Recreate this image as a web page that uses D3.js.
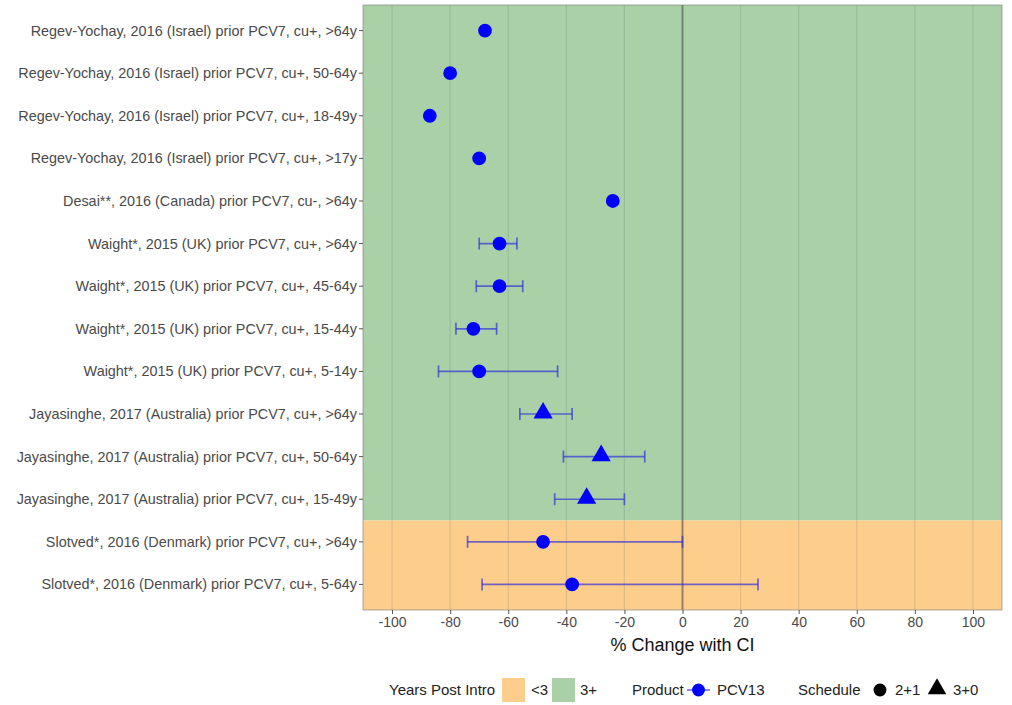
<!DOCTYPE html>
<html>
<head>
<meta charset="utf-8">
<script src="https://cdn.jsdelivr.net/npm/d3@7"></script>
<style>
  html, body { margin: 0; padding: 0; background: #fff; }
  svg { display: block; font-family: "Liberation Sans", Arial, sans-serif; }
</style>
</head>
<body>
<svg id="chart" width="1012" height="705"></svg>
<script>
// Study rows, top to bottom
const studies = [
  "Regev-Yochay, 2016 (Israel) prior PCV7, cu+, >64y",
  "Regev-Yochay, 2016 (Israel) prior PCV7, cu+, 50-64y",
  "Regev-Yochay, 2016 (Israel) prior PCV7, cu+, 18-49y",
  "Regev-Yochay, 2016 (Israel) prior PCV7, cu+, >17y",
  "Desai**, 2016 (Canada) prior PCV7, cu-, >64y",
  "Waight*, 2015 (UK) prior PCV7, cu+, >64y",
  "Waight*, 2015 (UK) prior PCV7, cu+, 45-64y",
  "Waight*, 2015 (UK) prior PCV7, cu+, 15-44y",
  "Waight*, 2015 (UK) prior PCV7, cu+, 5-14y",
  "Jayasinghe, 2017 (Australia) prior PCV7, cu+, >64y",
  "Jayasinghe, 2017 (Australia) prior PCV7, cu+, 50-64y",
  "Jayasinghe, 2017 (Australia) prior PCV7, cu+, 15-49y",
  "Slotved*, 2016 (Denmark) prior PCV7, cu+, >64y",
  "Slotved*, 2016 (Denmark) prior PCV7, cu+, 5-64y"
];
// % change estimate and confidence interval (null = not reported)
const estimate = [-68, -80, -87, -70, -24, -63, -63, -72, -70, -48, -28, -33, -48, -38];
const ciLow    = [null, null, null, null, null, -70, -71, -78, -84, -56, -41, -44, -74, -69];
const ciHigh   = [null, null, null, null, null, -57, -55, -64, -43, -38, -13, -20, 0, 26];
const schedule = ["2+1","2+1","2+1","2+1","2+1","2+1","2+1","2+1","2+1","3+0","3+0","3+0","2+1","2+1"];
const yearsPost = ["3+","3+","3+","3+","3+","3+","3+","3+","3+","3+","3+","3+","<3","<3"];
const xTicks = [-100, -80, -60, -40, -20, 0, 20, 40, 60, 80, 100];

const yearsColors = { "<3": "#fdcd8b", "3+": "#a9d0a7" };
const pointColor = "#0000ff";
const barColor = "rgba(40,40,220,0.65)";

const svg = d3.select("#chart");
const margin = { left: 363, right: 10, top: 5, bottom: 95 };
const W = 1012, H = 705;
const pw = W - margin.left - margin.right;
const ph = H - margin.top - margin.bottom;

const x = d3.scaleLinear().domain([-110, 110]).range([margin.left, margin.left + pw]);
const y = d3.scalePoint().domain(studies).range([margin.top, margin.top + ph]).padding(0.6);
const step = y.step();

const g = svg.append("g");

// background bands: merge consecutive rows sharing the same period
const runs = [];
yearsPost.forEach((v, i) => {
  if (runs.length && runs[runs.length - 1].v === v) runs[runs.length - 1].end = i;
  else runs.push({ v, start: i, end: i });
});
runs.forEach((r, k) => {
  const top = r.start === 0 ? margin.top : y(studies[r.start]) - step / 2;
  const bot = r.end === studies.length - 1 ? margin.top + ph : y(studies[r.end]) + step / 2;
  g.append("rect")
    .attr("x", margin.left).attr("y", top)
    .attr("width", pw).attr("height", bot - top)
    .attr("fill", yearsColors[r.v]);
});

// vertical grid lines
g.selectAll(".grid").data(xTicks).enter().append("line")
  .attr("x1", d => x(d)).attr("x2", d => x(d))
  .attr("y1", margin.top).attr("y2", margin.top + ph)
  .attr("stroke", "rgba(90,90,90,0.16)").attr("stroke-width", 1.2);

// zero reference line
g.append("line")
  .attr("x1", x(0)).attr("x2", x(0))
  .attr("y1", margin.top).attr("y2", margin.top + ph)
  .attr("stroke", "rgba(80,80,80,0.55)").attr("stroke-width", 2);

// panel border
g.append("rect").attr("x", margin.left).attr("y", margin.top).attr("width", pw).attr("height", ph)
  .attr("fill", "none").attr("stroke", "rgba(120,120,120,0.6)").attr("stroke-width", 1);

// error bars
studies.forEach((s, i) => {
  if (ciLow[i] === null) return;
  const cy = y(s), cap = 6;
  g.append("line").attr("x1", x(ciLow[i])).attr("x2", x(ciHigh[i])).attr("y1", cy).attr("y2", cy)
    .attr("stroke", barColor).attr("stroke-width", 1.7);
  [ciLow[i], ciHigh[i]].forEach(v => {
    g.append("line").attr("x1", x(v)).attr("x2", x(v)).attr("y1", cy - cap).attr("y2", cy + cap)
      .attr("stroke", barColor).attr("stroke-width", 1.7);
  });
});

// points
const circleSym = d3.symbol().type(d3.symbolCircle).size(150);
const triSym = d3.symbol().type(d3.symbolTriangle).size(160);
studies.forEach((s, i) => {
  const tri = schedule[i] === "3+0";
  g.append("path")
    .attr("d", tri ? triSym() : circleSym())
    .attr("transform", `translate(${x(estimate[i])},${y(s) + (tri ? -1 : 0)})`)
    .attr("fill", pointColor);
});

// y axis labels and ticks
studies.forEach(s => {
  g.append("line").attr("x1", margin.left - 4).attr("x2", margin.left).attr("y1", y(s)).attr("y2", y(s))
    .attr("stroke", "#555").attr("stroke-width", 1);
  g.append("text").attr("x", margin.left - 6).attr("y", y(s)).attr("dy", "0.35em")
    .attr("text-anchor", "end").attr("font-size", 14.4).attr("fill", "#4a4a4a").text(s);
});

// x axis
const xAxis = d3.axisBottom(x).tickValues(xTicks).tickFormat(d => String(d)).tickSize(4).tickPadding(3);
const ax = svg.append("g").attr("transform", `translate(0,${margin.top + ph})`).call(xAxis);
ax.select(".domain").remove();
ax.selectAll(".tick line").attr("stroke", "#555");
ax.selectAll(".tick text").attr("font-size", 14).attr("fill", "#4a4a4a")
  .attr("font-family", "Liberation Sans, Arial, sans-serif");

svg.append("text").attr("x", x(0)).attr("y", 651).attr("text-anchor", "middle")
  .attr("font-size", 18).attr("fill", "#111").text("% Change with CI");

// legends
const ly = 690;
const lg = svg.append("g").attr("font-size", 15).attr("fill", "#222");
lg.append("text").attr("x", 389).attr("y", ly).attr("dy", "0.35em").text("Years Post Intro");
lg.append("rect").attr("x", 502).attr("y", ly - 12).attr("width", 23).attr("height", 24).attr("fill", yearsColors["<3"]);
lg.append("text").attr("x", 531).attr("y", ly).attr("dy", "0.35em").text("<3");
lg.append("rect").attr("x", 552).attr("y", ly - 12).attr("width", 23).attr("height", 24).attr("fill", yearsColors["3+"]);
lg.append("text").attr("x", 580).attr("y", ly).attr("dy", "0.35em").text("3+");

lg.append("text").attr("x", 632).attr("y", ly).attr("dy", "0.35em").text("Product");
lg.append("line").attr("x1", 687).attr("x2", 710).attr("y1", ly).attr("y2", ly)
  .attr("stroke", barColor).attr("stroke-width", 1.7);
lg.append("path").attr("d", d3.symbol().type(d3.symbolCircle).size(130)())
  .attr("transform", `translate(698.5,${ly})`).attr("fill", pointColor);
lg.append("text").attr("x", 717).attr("y", ly).attr("dy", "0.35em").text("PCV13");

lg.append("text").attr("x", 798).attr("y", ly).attr("dy", "0.35em").text("Schedule");
lg.append("path").attr("d", d3.symbol().type(d3.symbolCircle).size(130)())
  .attr("transform", `translate(880,${ly})`).attr("fill", "#000");
lg.append("text").attr("x", 895).attr("y", ly).attr("dy", "0.35em").text("2+1");
lg.append("path").attr("d", d3.symbol().type(d3.symbolTriangle).size(150)())
  .attr("transform", `translate(937,${ly - 1})`).attr("fill", "#000");
lg.append("text").attr("x", 953).attr("y", ly).attr("dy", "0.35em").text("3+0");
</script>
</body>
</html>
